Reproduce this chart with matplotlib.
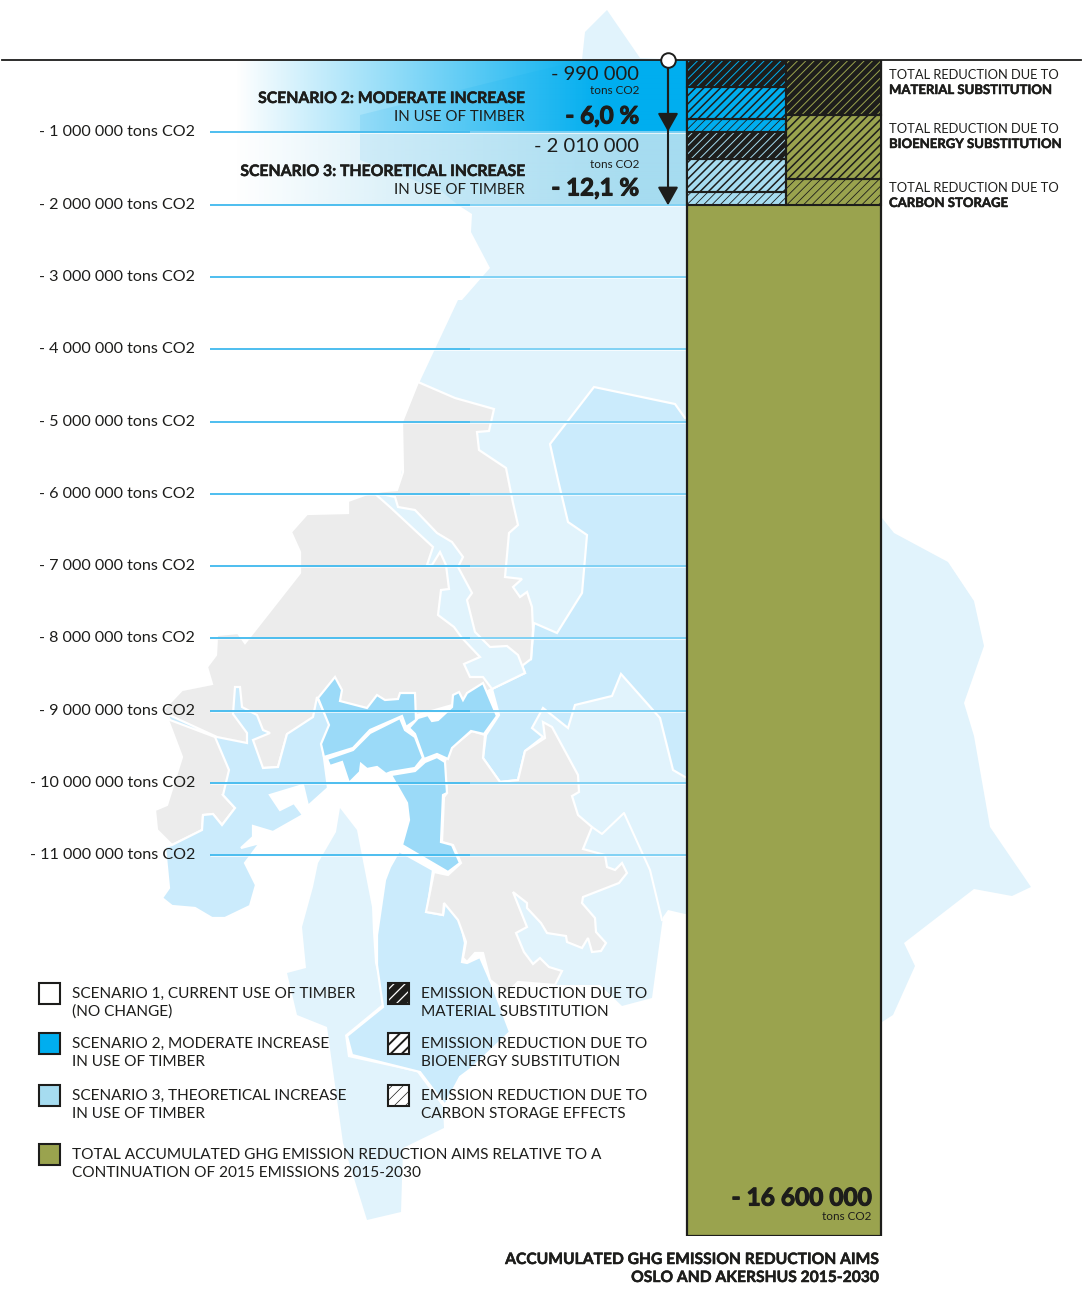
import numpy as np
import matplotlib as mpl
import matplotlib.pyplot as plt
import matplotlib.patheffects as pe
from matplotlib.patches import Polygon, Rectangle

plt.rcParams['font.family'] = ['Lato', 'DejaVu Sans']

# y axis
tick_values = [-1e6, -2e6, -3e6, -4e6, -5e6, -6e6, -7e6, -8e6, -9e6, -10e6, -11e6]
tick_labels = ['- 1 000 000 tons CO2', '- 2 000 000 tons CO2', '- 3 000 000 tons CO2',
               '- 4 000 000 tons CO2', '- 5 000 000 tons CO2', '- 6 000 000 tons CO2',
               '- 7 000 000 tons CO2', '- 8 000 000 tons CO2', '- 9 000 000 tons CO2',
               '- 10 000 000 tons CO2', '- 11 000 000 tons CO2']

# reductions per scenario, tons CO2 (steps, top to bottom)
scenario2_parts = [380000, 435000, 175000]   # material, bioenergy, carbon storage
scenario3_parts = [385000, 450000, 185000]
total_parts = [765000, 885000, 360000]
scenario2_total = -990000
scenario3_total = -2010000
total_aim = -16600000

# map outlines
map_light = [(607, 10), (640, 58), (687, 60), (687, 914), (685, 914), (668, 910), (663, 917), (652, 998),
             (622, 1006), (600, 985), (540, 985), (500, 900), (520, 790), (510, 700), (450, 620), (400, 480),
             (420, 381), (458, 300), (462, 300), (490, 268), (471, 232), (472, 214), (458, 205), (440, 190),
             (360, 160), (360, 115), (520, 75), (582, 60), (585, 32)]
map_east = [(882, 518), (894, 533), (948, 562), (974, 601), (984, 646), (964, 703), (974, 736), (990, 827),
            (1031, 887), (1012, 896), (974, 889), (904, 943), (915, 966), (893, 1015), (882, 1022)]
map_south = [(340, 808), (357, 830), (372, 907), (373, 933), (375, 963), (385, 1002), (345, 1035), (348, 1057),
             (417, 1072), (443, 1107), (444, 1128), (403, 1148), (401, 1212), (367, 1220), (343, 1143),
             (327, 1027), (297, 1015), (287, 973), (306, 968), (302, 927), (313, 887), (318, 863), (336, 832)]
mid_east = [(594, 387), (675, 404), (685, 418), (687, 418), (687, 778), (685, 777), (673, 770), (660, 718),
            (621, 674), (612, 696), (575, 705), (568, 728), (543, 708), (532, 728), (543, 737), (525, 751),
            (518, 780), (500, 782), (483, 758), (486, 735), (499, 715), (492, 689), (525, 673), (518, 655),
            (531, 659), (534, 623), (557, 633), (582, 593), (587, 535), (568, 522), (558, 480), (550, 444)]
mid_west = [(167, 714), (217, 737), (247, 743), (247, 733), (233, 714), (235, 687), (240, 687), (242, 707),
            (257, 715), (263, 730), (270, 733), (253, 740), (263, 768), (278, 767), (287, 734), (313, 717),
            (317, 697), (330, 725), (322, 743), (328, 788), (308, 806), (303, 785), (270, 795), (280, 810),
            (294, 803), (303, 815), (273, 832), (253, 826), (253, 837), (241, 848), (260, 843), (245, 863),
            (256, 885), (250, 906), (225, 918), (212, 918), (195, 908), (172, 906), (162, 898), (169, 888),
            (165, 847), (172, 845), (202, 830), (203, 815), (213, 814), (222, 825), (235, 808), (223, 795),
            (229, 770), (215, 737), (170, 720)]
mid_south = [(399, 851), (433, 870), (427, 912), (443, 915), (445, 903), (460, 920), (465, 943), (462, 962),
             (467, 963), (480, 957), (493, 987), (510, 1032), (472, 1068), (460, 1077), (445, 1105), (420, 1072),
             (352, 1055), (347, 1036), (383, 1007), (377, 965), (377, 935), (385, 880), (390, 867)]
gray_north = [(418, 382), (455, 398), (494, 409), (489, 431), (477, 432), (479, 450), (506, 468), (513, 503),
              (518, 525), (509, 533), (505, 577), (522, 579), (513, 587), (520, 597), (527, 592), (532, 607),
              (533, 630), (531, 659), (492, 689), (470, 700), (400, 720), (330, 725), (287, 734), (278, 767),
              (263, 768), (240, 790), (223, 795), (235, 808), (222, 825), (213, 814), (203, 815), (202, 830),
              (172, 845), (157, 830), (155, 810), (167, 805), (182, 757), (165, 712), (163, 710), (182, 690),
              (212, 684), (207, 667), (216, 655), (217, 635), (238, 633), (245, 643), (300, 573), (300, 552),
              (291, 532), (307, 514), (348, 513), (348, 501), (373, 492), (397, 490), (403, 472), (402, 422)]
gray_south = [(543, 722), (552, 727), (578, 775), (579, 792), (572, 796), (578, 815), (592, 827), (583, 849),
              (605, 855), (607, 867), (615, 870), (622, 863), (627, 873), (619, 883), (583, 897), (582, 903),
              (595, 918), (596, 932), (606, 943), (601, 951), (592, 952), (588, 938), (582, 948), (567, 942),
              (566, 936), (547, 933), (541, 923), (527, 908), (527, 903), (513, 892), (527, 927), (516, 933),
              (524, 952), (533, 964), (540, 958), (549, 967), (562, 971), (555, 985), (518, 982), (507, 993),
              (490, 980), (483, 953), (475, 953), (467, 962), (463, 958), (466, 942), (458, 920), (444, 903),
              (443, 915), (426, 912), (434, 872), (448, 875), (461, 863), (453, 845), (442, 842), (444, 797),
              (447, 793), (444, 763), (450, 750), (452, 747), (472, 731), (485, 735), (483, 758), (500, 782),
              (518, 780), (525, 751), (545, 738)]
river = [(373, 492), (395, 497), (398, 507), (415, 510), (437, 533), (452, 542), (463, 557), (458, 567),
         (472, 593), (467, 600), (475, 632), (490, 647), (507, 646), (518, 655), (525, 673), (492, 689),
         (483, 677), (470, 677), (464, 664), (480, 657), (462, 638), (454, 627), (438, 615), (441, 590),
         (449, 589), (446, 565), (440, 552), (432, 565), (427, 565), (433, 547), (390, 507)]
oslo_1 = [(318, 698), (335, 677), (342, 690), (340, 701), (367, 708), (377, 695), (385, 700), (398, 699),
          (400, 693), (415, 693), (416, 720), (406, 727), (402, 716), (370, 730), (353, 748), (324, 757),
          (321, 744), (329, 725)]
oslo_2 = [(327, 759), (353, 750), (370, 733), (400, 718), (405, 730), (415, 737), (423, 758), (415, 768),
          (391, 772), (386, 774), (377, 767), (367, 769), (361, 764), (360, 772), (349, 783), (342, 762), (330, 766)]
oslo_3 = [(409, 728), (418, 718), (428, 715), (432, 721), (438, 720), (452, 707), (453, 695), (459, 692),
          (463, 700), (467, 693), (483, 683), (497, 716), (484, 734), (471, 731), (452, 748), (448, 759),
          (437, 754), (424, 759), (415, 734)]
oslo_4 = [(425, 762), (437, 757), (445, 762), (447, 793), (443, 795), (441, 842), (452, 845), (460, 863),
          (448, 872), (402, 845), (409, 820), (407, 803), (391, 775), (415, 771)]
border_line = [(592, 827), (602, 834), (624, 813), (650, 870), (662, 920)]

blue = '#00AEEF'
pale = '#A6DCF0'
olive = '#9AA34E'
dark = '#1D1D1B'
line_blue = '#2FB3EC'

fig = plt.figure(figsize=(10.84, 12.92), dpi=100)

# whole-figure axes in pixels, for map and texts
ax = fig.add_axes([0, 0, 1, 1])
ax.set_axis_off()

for pts, col in [(map_light, '#E1F3FC'), (map_east, '#E1F3FC'), (map_south, '#E1F3FC')]:
    ax.add_patch(Polygon(pts, fc=col, ec='none', zorder=1))
ax.plot(*zip(*border_line), color='white', lw=1.5, zorder=1.5)
for pts in [mid_east, mid_south]:
    ax.add_patch(Polygon(pts, fc='#CBEBFC', ec='white', lw=1.6, zorder=2))
for pts in [gray_north, gray_south]:
    ax.add_patch(Polygon(pts, fc='#ECECEC', ec='white', lw=1.6, zorder=3))
ax.add_patch(Polygon(mid_west, fc='#CBEBFC', ec='white', lw=1.6, zorder=4))
ax.add_patch(Polygon(river, fc='#E1F3FC', ec='white', lw=1.6, zorder=4))
for pts in [oslo_1, oslo_2, oslo_3, oslo_4]:
    ax.add_patch(Polygon(pts, fc='#9BDAF8', ec='white', lw=1.6, zorder=5))


def band(color, x_full, top, bottom):
    # colour fades out towards the left
    rgba = np.ones((2, 452, 4))
    rgba[..., :3] = mpl.colors.to_rgb(color)
    rgba[..., 3] = np.clip((np.arange(452)) / (x_full - 235), 0, 1)
    ax.imshow(rgba, extent=(235, 687, bottom, top), aspect='auto', zorder=6, interpolation='bilinear')


band(blue, 600, 60, 132)
band(pale, 640, 132, 205)
ax.set_xlim(0, 1084)
ax.set_ylim(1292, 0)

# value axes, spans the bar from 0 to the total aim
bar_ax = fig.add_axes([0, 1 - 1236 / 1292, 1, (1236 - 60) / 1292])
bar_ax.patch.set_alpha(0)
bar_ax.set_axis_off()
bar_ax.set_xlim(0, 1084)
vals = [total_aim, -11e6, 0]
pix = [-1176, -795.3, 0]
bar_ax.set_yscale('function', functions=(lambda v: np.interp(v, vals, pix),
                                         lambda p: np.interp(p, pix, vals)))
bar_ax.set_ylim(total_aim, 0)

for v, lab in zip(tick_values, tick_labels):
    bar_ax.hlines(v, 210, 687, color='white', lw=2.2, alpha=0.7, zorder=1)
    bar_ax.hlines(v, 210, 470, color=line_blue, lw=1.2, zorder=2)
    bar_ax.hlines(v, 470, 687, color='#6CCAF2', lw=1.2, zorder=2)
    bar_ax.text(195, v, lab, ha='right', va='center', fontsize=11.6, color=dark)


def hatched_stack(left, width, parts, top, color):
    # material / bioenergy / carbon storage, each with own hatch weight
    styles = [(dark, color, 0.7), (color, dark, 1.1), (color, dark, 0.6)]
    for part, (face, hatch_col, hatch_lw) in zip(parts, styles):
        mpl.rcParams['hatch.linewidth'] = hatch_lw
        bar_ax.bar(left, -part, width, bottom=top, align='edge', color=face, edgecolor=hatch_col,
                   hatch='////', lw=0, zorder=3)
        bar_ax.bar(left, -part, width, bottom=top, align='edge', fill=False, edgecolor=dark, lw=1.5, zorder=4)
        top -= part
    return top


bar_ax.bar(687, total_aim, 194, align='edge', color=olive, edgecolor=dark, lw=1.6, zorder=3)
t = hatched_stack(687, 99, scenario2_parts, 0, blue)
hatched_stack(687, 99, scenario3_parts, t, pale)
hatched_stack(786, 95, total_parts, 0, olive)

ax.plot([2, 1081], [60, 60], color=dark, lw=1.3, zorder=7)

arrow = dict(arrowstyle='-|>,head_length=0.8,head_width=0.45', color=dark, lw=1.5,
             shrinkA=0, shrinkB=0, mutation_scale=14)
bar_ax.annotate('', xy=(668, scenario3_total), xytext=(668, 0), arrowprops=arrow, zorder=6)
bar_ax.annotate('', xy=(668, scenario2_total), xytext=(668, 0), arrowprops=arrow, zorder=6)
bar_ax.plot([668], [0], 'o', ms=10.5, mfc='white', mec=dark, mew=1.4, zorder=8, clip_on=False)

# heavier look than the plain bold
heavy = [pe.withStroke(linewidth=0.35, foreground=dark)]
heavier = [pe.withStroke(linewidth=0.8, foreground=dark)]

# texts in the bands
ax.text(525, 99, 'SCENARIO 2: MODERATE INCREASE', ha='right', va='center', fontsize=11.35, weight='bold', color=dark, zorder=9, path_effects=heavy)
ax.text(525, 117, 'IN USE OF TIMBER', ha='right', va='center', fontsize=10.8, color=dark, zorder=9)
ax.text(525, 172, 'SCENARIO 3: THEORETICAL INCREASE', ha='right', va='center', fontsize=11.35, weight='bold', color=dark, zorder=9, path_effects=heavy)
ax.text(525, 190, 'IN USE OF TIMBER', ha='right', va='center', fontsize=10.8, color=dark, zorder=9)
ax.text(639, 75, '- 990 000', ha='right', va='center', fontsize=14.5, color=dark, zorder=9)
ax.text(639, 91, 'tons CO2', ha='right', va='center', fontsize=8.5, color=dark, zorder=9)
ax.text(639, 116, '- 6,0 %', ha='right', va='center', fontsize=17.3, weight='bold', color=dark, zorder=9, path_effects=heavier)
ax.text(639, 147, '- 2 010 000', ha='right', va='center', fontsize=14.5, color=dark, zorder=9)
ax.text(639, 164, 'tons CO2', ha='right', va='center', fontsize=8.5, color=dark, zorder=9)
ax.text(639, 188, '- 12,1 %', ha='right', va='center', fontsize=17.3, weight='bold', color=dark, zorder=9, path_effects=heavier)

# right column labels
for y, word in [(75, 'MATERIAL SUBSTITUTION'), (129, 'BIOENERGY SUBSTITUTION'), (188, 'CARBON STORAGE')]:
    ax.text(889, y, 'TOTAL REDUCTION DUE TO', va='center', fontsize=9.3, color=dark, zorder=9)
    ax.text(889, y + 15, word, va='center', fontsize=9.45, weight='bold', color=dark, zorder=9, path_effects=heavy)

bar_ax.text(871, 1198, '- 16 600 000', ha='right', va='center', fontsize=17.6, weight='bold', color=dark,
            transform=ax.transData, zorder=9, path_effects=heavier)
bar_ax.text(871, 1216, 'tons CO2', ha='right', va='center', fontsize=8.5, color=dark,
            transform=ax.transData, zorder=9)
ax.text(879, 1260, 'ACCUMULATED GHG EMISSION REDUCTION AIMS', ha='right', va='center', fontsize=11.25, weight='bold', color=dark, zorder=9, path_effects=heavy)
ax.text(879, 1278, 'OSLO AND AKERSHUS 2015-2030', ha='right', va='center', fontsize=11.25, weight='bold', color=dark, zorder=9, path_effects=heavy)

# legend
legend_left = [(983, 'white', 'SCENARIO 1, CURRENT USE OF TIMBER', '(NO CHANGE)'),
               (1033, blue, 'SCENARIO 2, MODERATE INCREASE', 'IN USE OF TIMBER'),
               (1085, pale, 'SCENARIO 3, THEORETICAL INCREASE', 'IN USE OF TIMBER'),
               (1144, olive, 'TOTAL ACCUMULATED GHG EMISSION REDUCTION AIMS RELATIVE TO A',
                'CONTINUATION OF 2015 EMISSIONS 2015-2030')]
for y, col, l1, l2 in legend_left:
    ax.add_patch(Rectangle((39, y), 21, 21, fc=col, ec=dark, lw=1.5, zorder=9))
    ax.text(72, y + 11, l1, va='center', fontsize=11.05, color=dark, zorder=9)
    ax.text(72, y + 29, l2, va='center', fontsize=11.05, color=dark, zorder=9)

legend_right = [(983, dark, 'white', 0.9, 'MATERIAL SUBSTITUTION'),
                (1033, 'white', dark, 1.4, 'BIOENERGY SUBSTITUTION'),
                (1085, 'white', dark, 0.5, 'CARBON STORAGE EFFECTS')]
for y, face, hcol, hlw, word in legend_right:
    mpl.rcParams['hatch.linewidth'] = hlw
    ax.add_patch(Rectangle((388, y), 21, 21, fc=face, ec=hcol, hatch='///', lw=0, zorder=9))
    ax.add_patch(Rectangle((388, y), 21, 21, fill=False, ec=dark, lw=1.5, zorder=10))
    ax.text(421, y + 11, 'EMISSION REDUCTION DUE TO', va='center', fontsize=11.1, color=dark, zorder=9)
    ax.text(421, y + 29, word, va='center', fontsize=11.1, color=dark, zorder=9)

fig.savefig('out.png', dpi=100)
